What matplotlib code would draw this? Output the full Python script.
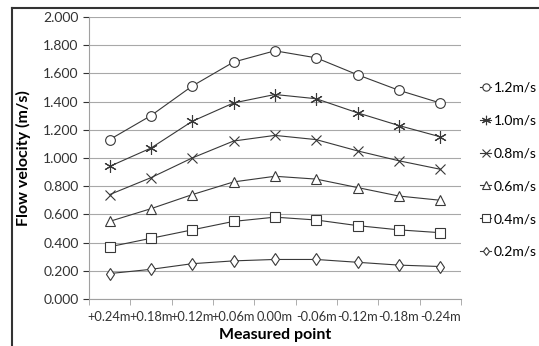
import matplotlib.pyplot as plt
from matplotlib.lines import Line2D

plt.rcParams['font.family'] = ['Lato', 'DejaVu Sans']

puntos = ['+0.24m', '+0.18m', '+0.12m', '+0.06m', '0.00m', '-0.06m', '-0.12m', '-0.18m', '-0.24m']
v12 = [1.13, 1.30, 1.51, 1.68, 1.76, 1.71, 1.59, 1.48, 1.39]
v10 = [0.94, 1.07, 1.26, 1.39, 1.45, 1.42, 1.32, 1.23, 1.15]
v08 = [0.74, 0.86, 1.00, 1.12, 1.16, 1.13, 1.05, 0.98, 0.92]
v06 = [0.55, 0.64, 0.74, 0.83, 0.87, 0.85, 0.79, 0.73, 0.70]
v04 = [0.37, 0.43, 0.49, 0.55, 0.58, 0.56, 0.52, 0.49, 0.47]
v02 = [0.18, 0.21, 0.25, 0.27, 0.28, 0.28, 0.26, 0.24, 0.23]
etiquetas = ['1.2m/s', '1.0m/s', '0.8m/s', '0.6m/s', '0.4m/s', '0.2m/s']

fig = plt.figure(figsize=(5.39, 3.46), dpi=100)
ax = fig.add_axes([0.165, 0.136, 0.69, 0.815])

# marcadores de cada serie
estilos = [('o', 7), ((6, 2, 0), 9), ('x', 7), ('^', 7), ('s', 7), ('d', 6)]
series = [v12, v10, v08, v06, v04, v02]
x = range(len(puntos))
for s, (m, ms), lab in zip(series, estilos, etiquetas):
    ax.plot(x, s, color='#383838', lw=0.8, marker=m, ms=ms, mfc='white',
            mec='#383838', mew=0.8, label=lab)

ax.set_xlim(-0.5, len(puntos) - 0.5)
ax.set_ylim(0, 2.0)
ax.set_yticks([i * 0.2 for i in range(11)])
ax.set_yticklabels(['%.3f' % (i * 0.2) for i in range(11)])
ax.set_xticks(list(x))
ax.set_xticklabels(puntos)
ax.set_xticks([i - 0.5 for i in range(len(puntos) + 1)], minor=True)
ax.tick_params(axis='x', which='major', length=0, pad=9, labelsize=9.3)
ax.tick_params(axis='x', which='minor', length=4, color='#a0a0a0')
ax.tick_params(axis='y', length=4, color='#a0a0a0', labelsize=10)
ax.tick_params(colors='#333333')
ax.grid(axis='y', color='#a8a8a8', lw=0.8)
ax.set_axisbelow(True)
for lado in ['top', 'right']:
    ax.spines[lado].set_visible(False)
for lado in ['left', 'bottom']:
    ax.spines[lado].set_color('#a0a0a0')

ax.set_ylabel('Flow velocity (m/s)', fontsize=11.5, fontweight='bold', labelpad=9)
ax.set_xlabel('Measured point', fontsize=11.5, fontweight='bold', labelpad=3)

fig.legend(loc='upper left', bbox_to_anchor=(0.868, 0.8), frameon=False,
           handlelength=0.8, handletextpad=0.15, labelspacing=1.5, fontsize=10,
           markerscale=0.75)

# marco exterior
fig.add_artist(Line2D([12 / 539, 1], [1 - 8 / 346, 1 - 8 / 346], color='#333333', lw=1.5))
fig.add_artist(Line2D([12 / 539, 12 / 539], [0, 1 - 8 / 346], color='#333333', lw=1.5))

fig.savefig('out.png', dpi=100)
